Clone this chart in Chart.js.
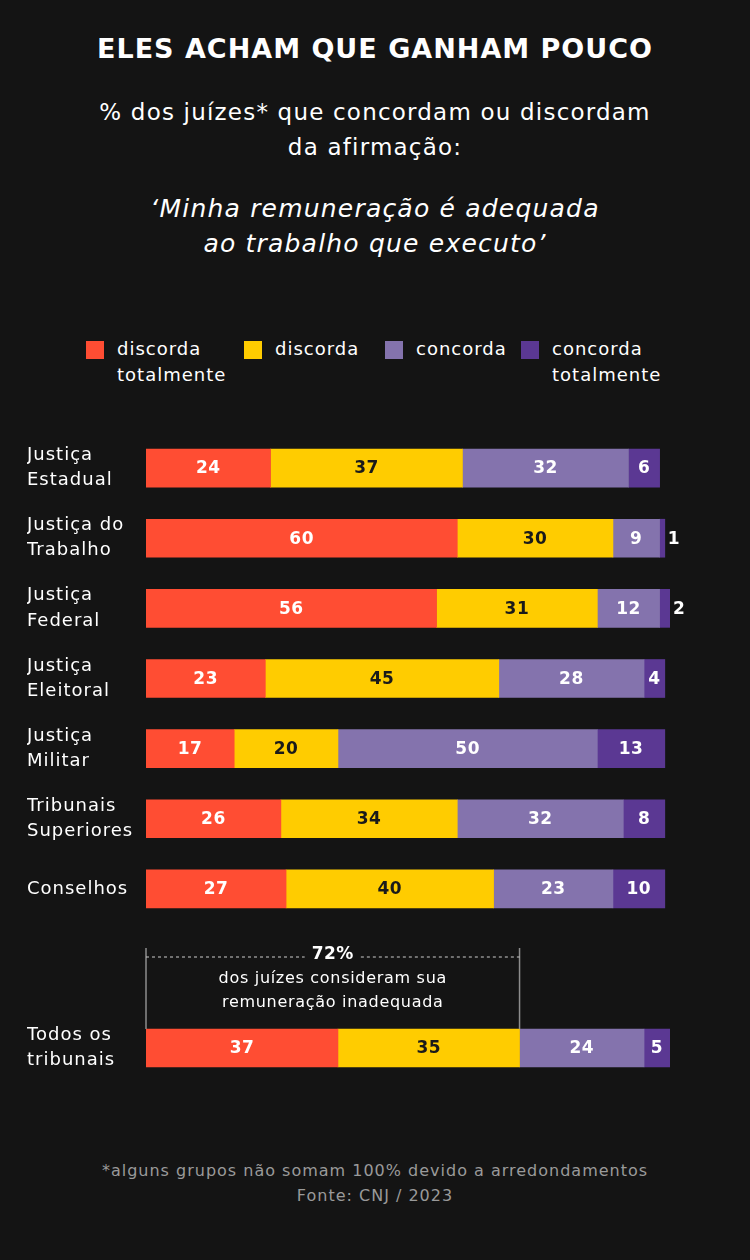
<!DOCTYPE html>
<html>
<head>
<meta charset="utf-8">
<script src="https://cdn.jsdelivr.net/npm/chart.js@4.4.1/dist/chart.umd.min.js"></script>
<style>
  body { margin:0; background:#141414; width:750px; height:1260px; position:relative; overflow:hidden;
         font-family:"DejaVu Sans", "Noto Sans", sans-serif; color:#fff; letter-spacing:1px; }
  .abs { position:absolute; }
  #title { top:33px; left:0; width:750px; text-align:center; font-size:27px; font-weight:700; letter-spacing:1px; }
  #sub { top:95px; left:0; width:750px; text-align:center; font-size:23px; font-weight:400; line-height:35px; letter-spacing:1.2px; }
  #quote { top:191px; left:0; width:750px; text-align:center; font-size:25px; font-style:italic; font-weight:400; line-height:35px; letter-spacing:1.2px; }
  .leg { top:340px; font-size:18px; line-height:26px; }
  .leg i { position:absolute; left:0; top:1px; width:18px; height:18px; }
  .leg span { position:absolute; white-space:nowrap; }
  #foot { top:1158px; left:0; width:750px; text-align:center; font-size:16px; color:#9a9a9a; line-height:25px; }
</style>
</head>
<body>
<div id="title" class="abs">ELES ACHAM QUE GANHAM POUCO</div>
<div id="sub" class="abs">% dos juízes* que concordam ou discordam<br>da afirmação:</div>
<div id="quote" class="abs">‘Minha remuneração é adequada<br>ao trabalho que executo’</div>
<div id="legend"></div>
<div class="abs" style="left:0;top:433px;width:750px;height:491px"><canvas id="main"></canvas></div>
<div class="abs" style="left:0;top:940px;width:750px;height:150px"><canvas id="total"></canvas></div>
<div id="foot" class="abs">*alguns grupos não somam 100% devido a arredondamentos<br>Fonte: CNJ / 2023</div>
<script>
var categories = [
  ['Justiça', 'Estadual'],
  ['Justiça do', 'Trabalho'],
  ['Justiça', 'Federal'],
  ['Justiça', 'Eleitoral'],
  ['Justiça', 'Militar'],
  ['Tribunais', 'Superiores'],
  'Conselhos'
];
var discordaTotalmente = [24, 60, 56, 23, 17, 26, 27];
var discorda = [37, 30, 31, 45, 20, 34, 40];
var concorda = [32, 9, 12, 28, 50, 32, 23];
var concordaTotalmente = [6, 1, 2, 4, 13, 8, 10];

var totalCategory = [['Todos os', 'tribunais']];
var totalValues = [37, 35, 24, 5];

var seriesNames = [['discorda', 'totalmente'], ['discorda'], ['concorda'], ['concorda', 'totalmente']];
var colors = ['#ff4d33', '#ffcc00', '#8473ad', '#5b3893'];
var labelColors = ['#ffffff', '#1a1a1a', '#ffffff', '#ffffff'];

var FONT = '"DejaVu Sans", sans-serif';

// legend
var legendX = [86, 244, 385, 521];
var legHtml = '';
for (var i = 0; i < seriesNames.length; i++) {
  legHtml += '<div class="abs leg" style="left:' + legendX[i] + 'px"><i style="background:' + colors[i] + '"></i>' +
    '<span style="left:31px;top:-4px">' + seriesNames[i].join('<br>') + '</span></div>';
}
document.getElementById('legend').innerHTML = legHtml;

// wider tracking for the axis labels (DejaVu is narrower than the original font)
var spacing = {
  id: 'spacing',
  beforeDraw: function(chart) { chart.ctx.letterSpacing = '1px'; }
};

var valueLabels = {
  id: 'valueLabels',
  afterDatasetsDraw: function(chart) {
    var ctx = chart.ctx;
    ctx.save();
    ctx.letterSpacing = '0.5px';
    ctx.font = '700 17px ' + FONT;
    ctx.textBaseline = 'middle';
    chart.data.datasets.forEach(function(ds, di) {
      var meta = chart.getDatasetMeta(di);
      meta.data.forEach(function(el, i) {
        var v = ds.data[i];
        var w = el.x - el.base;
        if (w < 16) {
          ctx.fillStyle = '#ffffff';
          ctx.textAlign = 'left';
          ctx.fillText(v, el.x + 3, el.y + 1);
        } else {
          ctx.fillStyle = labelColors[di];
          ctx.textAlign = 'center';
          ctx.fillText(v, (el.x + el.base) / 2, el.y + 1);
        }
      });
    });
    ctx.restore();
  }
};

function makeDatasets(cols) {
  return cols.map(function(d, i) {
    return { label: seriesNames[i].join(' '), data: d, backgroundColor: colors[i], borderWidth: 0, barThickness: 38 };
  });
}

function baseOptions(padTop, padBottom) {
  return {
    indexAxis: 'y',
    responsive: true,
    maintainAspectRatio: false,
    animation: false,
    layout: { padding: { left: 27, right: 80, top: padTop, bottom: padBottom } },
    plugins: { legend: { display: false }, tooltip: { enabled: false } },
    scales: {
      x: { stacked: true, min: 0, max: 101, display: false },
      y: {
        stacked: true,
        grid: { display: false },
        border: { display: false },
        afterFit: function(s) { s.width = 119; s.paddingTop = 0; s.paddingBottom = 0; },
        ticks: {
          crossAlign: 'far',
          color: '#ffffff',
          font: { family: FONT, size: 18, lineHeight: 1.4 }
        }
      }
    }
  };
}

new Chart(document.getElementById('main'), {
  type: 'bar',
  data: {
    labels: categories,
    datasets: makeDatasets([discordaTotalmente, discorda, concorda, concordaTotalmente])
  },
  options: baseOptions(0, 0),
  plugins: [spacing, valueLabels]
});

var bracket = {
  id: 'bracket',
  afterDraw: function(chart) {
    var ctx = chart.ctx;
    var xs = chart.scales.x;
    var inadequate = totalValues[0] + totalValues[1];
    var x0 = xs.getPixelForValue(0);
    var x1 = xs.getPixelForValue(inadequate);
    var barTop = chart.getDatasetMeta(0).data[0].y - 19;
    var mid = (x0 + x1) / 2;
    ctx.save();
    ctx.strokeStyle = '#8c8c8c';
    ctx.lineWidth = 1.5;
    ctx.beginPath();
    ctx.moveTo(x0, 8); ctx.lineTo(x0, barTop);
    ctx.moveTo(x1, 8); ctx.lineTo(x1, barTop);
    ctx.stroke();
    ctx.letterSpacing = '0.5px';
    ctx.font = '700 17px ' + FONT;
    var label = inadequate + '%';
    var tw = ctx.measureText(label).width;
    ctx.setLineDash([3, 3]);
    ctx.lineWidth = 1;
    ctx.strokeStyle = '#cccccc';
    ctx.beginPath();
    ctx.moveTo(x0, 17); ctx.lineTo(mid - tw / 2 - 7, 17);
    ctx.moveTo(mid + tw / 2 + 7, 17); ctx.lineTo(x1, 17);
    ctx.stroke();
    ctx.fillStyle = '#ffffff';
    ctx.textAlign = 'center';
    ctx.textBaseline = 'middle';
    ctx.fillText(label, mid, 15);
    ctx.letterSpacing = '0.7px';
    ctx.font = '16px ' + FONT;
    ctx.fillText('dos juízes consideram sua', mid, 39);
    ctx.fillText('remuneração inadequada', mid, 63);
    ctx.restore();
  }
};

new Chart(document.getElementById('total'), {
  type: 'bar',
  data: {
    labels: totalCategory,
    datasets: makeDatasets(totalValues.map(function(v) { return [v]; }))
  },
  options: baseOptions(70, 4),
  plugins: [spacing, valueLabels, bracket]
});
</script>
</body>
</html>
